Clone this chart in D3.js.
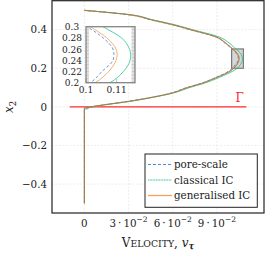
<!DOCTYPE html>
<html>
<head>
<meta charset="utf-8">
<script src="https://cdn.jsdelivr.net/npm/d3@7"></script>
<style>
  body { margin: 0; background: #fff; }
  svg { display: block; }
  text { fill: #222; }
</style>
</head>
<body>
<div id="chart"></div>
<script>
// y positions across the channel
const yLevels = [-0.5, -0.015, -0.008, 0, 0.01, 0.028, 0.05, 0.072, 0.1, 0.12, 0.153, 0.17, 0.2, 0.22, 0.24, 0.25, 0.26, 0.28, 0.3, 0.33, 0.361, 0.4, 0.426, 0.45, 0.478, 0.49, 0.5];
// velocity profiles
const vPore = [0, 0, 0.003, 0.006, 0.013, 0.029, 0.046, 0.059, 0.0695, 0.0785, 0.0895, 0.0945, 0.1007, 0.1026, 0.1044, 0.10457, 0.1044, 0.1028, 0.1002, 0.0955, 0.0895, 0.0715, 0.0595, 0.0455, 0.0295, 0.0145, 0];
const vClassical = [0, 0, 0, 0.005, 0.0135, 0.0305, 0.047, 0.0605, 0.0715, 0.0805, 0.0918, 0.0968, 0.1039, 0.1061, 0.1072, 0.1073, 0.1071, 0.1058, 0.1028, 0.0985, 0.0918, 0.0735, 0.061, 0.047, 0.0305, 0.015, 0];
const vGeneral = [0, 0, 0, 0.0045, 0.013, 0.030, 0.0465, 0.0598, 0.070, 0.079, 0.090, 0.0953, 0.1015, 0.1037, 0.1049, 0.1051, 0.1049, 0.1034, 0.1007, 0.096, 0.090, 0.072, 0.0598, 0.046, 0.030, 0.0148, 0];

const seriesNames = ["pore-scale", "classical IC", "generalised IC"];
const seriesColors = ["#4f8ad4", "#22c08e", "#f3a25e"];

const interfaceX = [-0.01, 0.11];   // Gamma line at x2 = 0
const xTicks = [0, 0.03, 0.06, 0.09];
const xTickMant = ["0", "3", "6", "9"];
const yTicks = [-0.4, -0.2, 0, 0.2, 0.4];
const insetXTicks = [0.1, 0.105];
const insetYTicks = [0.2, 0.22, 0.24, 0.26, 0.28, 0.3];
const zoomX = [0.1, 0.108];
const zoomY = [0.2, 0.3];

const width = 265, height = 254;
const svg = d3.select("#chart").append("svg").attr("width", width).attr("height", height)
    .attr("font-family", "'DejaVu Serif', serif");

const x = d3.scaleLinear().domain([-0.022, 0.122]).range([52, 264]);
const y = d3.scaleLinear().domain([-0.55, 0.55]).range([213, 0.7]);

const fmt2 = d => String(Math.round(d * 100 + 1e-9) / 100);

// grid
svg.append("g").selectAll("line").data(xTicks).join("line")
    .attr("x1", d => x(d)).attr("x2", d => x(d)).attr("y1", y.range()[0]).attr("y2", y.range()[1])
    .attr("stroke", "#e0e0e0").attr("stroke-width", 0.6).attr("stroke-dasharray", "2,1.5");
svg.append("g").selectAll("line").data(yTicks).join("line")
    .attr("y1", d => y(d)).attr("y2", d => y(d)).attr("x1", x.range()[0]).attr("x2", x.range()[1])
    .attr("stroke", "#e0e0e0").attr("stroke-width", 0.6).attr("stroke-dasharray", "2,1.5");

// y tick labels
svg.append("g").selectAll("text").data(yTicks).join("text")
    .attr("x", 47).attr("y", d => y(d) + 3.8)
    .attr("text-anchor", "end").attr("font-size", 10.3)
    .text(d => d === 0 ? "0" : (d < 0 ? "\u2212" : "") + Math.abs(d).toString());

// x tick labels
const xl = svg.append("g").selectAll("text").data(xTicks).join("text")
    .attr("x", d => x(d)).attr("y", 227)
    .attr("text-anchor", "middle").attr("font-size", 10.3);
xl.each(function(d, i) {
    const t = d3.select(this);
    if (d === 0) { t.text("0"); return; }
    t.append("tspan").text(xTickMant[i] + "\u2009\u00b7\u200910");
    t.append("tspan").attr("dy", -5).attr("font-size", 7.5).text("\u22122");
});

// axis labels
const xlab = svg.append("text").attr("x", 158).attr("y", 246.5).attr("text-anchor", "middle").attr("font-size", 12);
xlab.append("tspan").text("V");
xlab.append("tspan").attr("font-size", 9.3).text("ELOCITY");
xlab.append("tspan").text(", ");
xlab.append("tspan").attr("font-style", "italic").text("v");
xlab.append("tspan").attr("font-style", "italic").attr("font-weight", "bold").attr("font-size", 8.5).attr("dy", 2).text("\u03c4");

const ylab = svg.append("text").attr("transform", "translate(13,107) rotate(-90)").attr("text-anchor", "middle").attr("font-size", 12);
ylab.append("tspan").attr("font-style", "italic").text("x");
ylab.append("tspan").attr("font-size", 8.5).attr("dy", 2.5).text("2");

// interface line
svg.append("line")
    .attr("x1", x(interfaceX[0])).attr("x2", x(interfaceX[1])).attr("y1", y(0)).attr("y2", y(0))
    .attr("stroke", "#ff2a2a").attr("stroke-width", 1.3);
svg.append("text").attr("x", x(0.1055)).attr("y", y(0) - 5).attr("text-anchor", "middle")
    .attr("font-size", 12).style("fill", "#ff2a2a").text("\u0393");

// zoom box in main plot
svg.append("rect")
    .attr("x", x(zoomX[0])).attr("y", y(zoomY[1]))
    .attr("width", x(zoomX[1]) - x(zoomX[0])).attr("height", y(zoomY[0]) - y(zoomY[1]))
    .attr("fill", "#d6d6d6").attr("stroke", "#7a7a7a").attr("stroke-width", 1.2);

const allV = [vPore, vClassical, vGeneral];
const styles = [
    { w: 1.0, dash: "3,2", op: 0.95 },
    { w: 0.9, dash: null, op: 0.95 },
    { w: 1.1, dash: null, op: 0.85 }
];

function drawCurves(g, sx, sy, scaleW) {
    allV.forEach((vals, i) => {
        const line = d3.line().x(d => sx(d[0])).y(d => sy(d[1])).curve(d3.curveMonotoneY);
        g.append("path")
            .datum(vals.map((v, j) => [v, yLevels[j]]))
            .attr("d", line)
            .attr("fill", "none")
            .attr("stroke", seriesColors[i])
            .attr("stroke-width", styles[i].w * scaleW)
            .attr("stroke-opacity", styles[i].op)
            .attr("stroke-dasharray", styles[i].dash);
    });
}

// main curves, with a dark overlap tone like the reference
const mainG = svg.append("g");
drawCurves(mainG, x, y, 1);
mainG.append("path")
    .datum(vGeneral.map((v, j) => [v, yLevels[j]]))
    .attr("d", d3.line().x(d => x(d[0])).y(d => y(d[1])).curve(d3.curveMonotoneY))
    .attr("fill", "none").attr("stroke", "#6e5528").attr("stroke-width", 0.7).attr("stroke-opacity", 0.75);

// frame
svg.append("rect")
    .attr("x", x.range()[0]).attr("y", y.range()[1])
    .attr("width", x.range()[1] - x.range()[0]).attr("height", y.range()[0] - y.range()[1])
    .attr("fill", "none").attr("stroke", "#222").attr("stroke-width", 1.2);

// inset
const ix = d3.scaleLinear().domain(zoomX).range([86, 135]);
const iy = d3.scaleLinear().domain(zoomY).range([82.7, 26.7]);
const inset = svg.append("g");
inset.append("rect").attr("x", 86).attr("y", 26.7).attr("width", 49).attr("height", 56)
    .attr("fill", "#fff");
svg.append("clipPath").attr("id", "insetClip").append("rect")
    .attr("x", 86).attr("y", 26.7).attr("width", 49).attr("height", 56);
const insetCurves = inset.append("g").attr("clip-path", "url(#insetClip)");
drawCurves(insetCurves, ix, iy, 0.9);

// minor ticks on inset
const minorY = d3.range(0.2, 0.3001, 0.0025);
inset.append("g").selectAll("line").data(minorY).join("line")
    .attr("x1", 131.5).attr("x2", 135).attr("y1", d => iy(d)).attr("y2", d => iy(d))
    .attr("stroke", "#999").attr("stroke-width", 0.5);
inset.append("g").selectAll("line").data(minorY).join("line")
    .attr("x1", 86).attr("x2", 89).attr("y1", d => iy(d)).attr("y2", d => iy(d))
    .attr("stroke", "#999").attr("stroke-width", 0.5);
inset.append("g").selectAll("line").data(insetXTicks).join("line")
    .attr("x1", d => ix(d)).attr("x2", d => ix(d)).attr("y1", 82.7).attr("y2", 79)
    .attr("stroke", "#999").attr("stroke-width", 0.6);

inset.append("rect").attr("x", 86).attr("y", 26.7).attr("width", 49).attr("height", 56)
    .attr("fill", "none").attr("stroke", "#858585").attr("stroke-width", 1.3);

inset.append("g").selectAll("text").data(insetYTicks).join("text")
    .attr("x", 72).attr("y", d => iy(d) + 3.4).attr("text-anchor", "middle").attr("font-size", 9)
    .text(fmt2);
inset.append("g").selectAll("text").data(insetXTicks).join("text")
    .attr("x", d => ix(d)).attr("y", 92.5).attr("text-anchor", "middle").attr("font-size", 9)
    .text(fmt2);

// legend
const legend = svg.append("g");
legend.append("rect").attr("x", 145).attr("y", 154).attr("width", 112.3).attr("height", 53.3)
    .attr("fill", "#fff").attr("stroke", "#222").attr("stroke-width", 1);
seriesNames.forEach((name, i) => {
    const ly = 164.5 + i * 15.5;
    legend.append("line").attr("x1", 148).attr("x2", 172).attr("y1", ly).attr("y2", ly)
        .attr("stroke", seriesColors[i]).attr("stroke-width", i === 2 ? 1.3 : 1)
        .attr("stroke-dasharray", i === 0 ? "3,2" : (i === 1 ? "1,0.6" : null));
    legend.append("text").attr("x", 174).attr("y", ly + 3.8).attr("font-size", 10.3).text(name);
});
</script>
</body>
</html>
